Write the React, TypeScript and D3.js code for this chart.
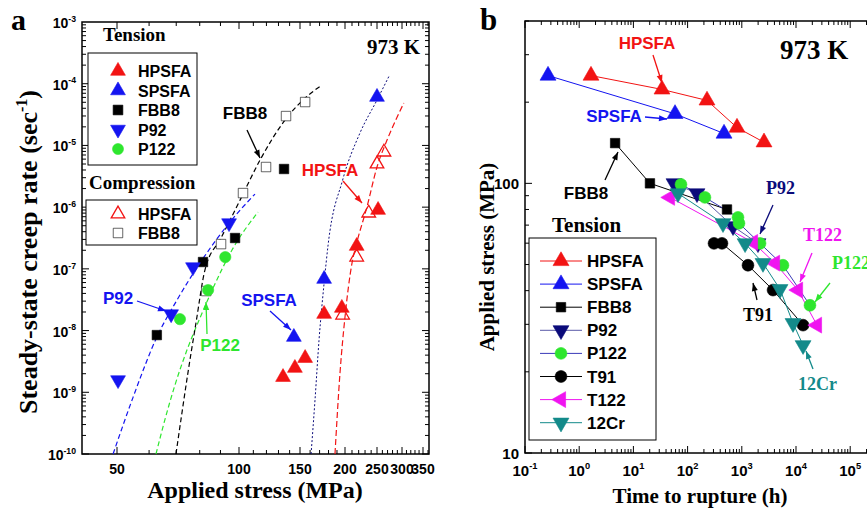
import React, { useEffect, useRef } from "react";
import * as d3 from "d3";

// ---------- panel a : steady-state creep rate vs applied stress  [MPa, 1/s]
const aHpsfaT = [[134, 1.76e-9], [145, 2.47e-9], [155, 3.58e-9], [175, 1.85e-8], [196, 2.32e-8], [217, 2.34e-7], [252, 8.97e-7]];
const aHpsfaC = [[197, 1.78e-8], [217, 1.55e-7], [236, 8.02e-7], [250, 5.0e-6], [263, 7.8e-6]];
const aSpsfaT = [[144, 7.85e-9], [175, 6.84e-8], [250, 6.09e-5]];
const aFbb8T = [[62.7, 8.45e-9], [81.5, 1.29e-7], [97.8, 3.16e-7], [134.9, 4.15e-6]];
const aFbb8C = [[83, 4.37e-8], [90.3, 2.52e-7], [102.7, 1.69e-6], [119.7, 4.47e-6], [136.7, 2.99e-5], [155, 5.05e-5]];
const aP92T = [[50.3, 1.58e-9], [68, 1.85e-8], [77, 1.07e-7], [94.5, 5.52e-7]];
const aP122T = [[71.5, 1.53e-8], [83.9, 4.53e-8], [92.5, 1.55e-7]];

// fitted curves
const fitP92 = [[48.9, 1e-10], [54.8, 8.36e-10], [62.7, 7.85e-9], [70.3, 3.12e-8], [80.1, 1.24e-7], [95, 5.74e-7], [111.2, 1.63e-6]];
const fitP122 = [[62.4, 1e-10], [65.6, 3.54e-10], [69.5, 1.31e-9], [74.4, 4.83e-9], [80.1, 1.6e-8], [86.3, 4.89e-8], [96.1, 2.02e-7], [113.5, 8.33e-7]];
const fitFbb8 = [[69.9, 1e-10], [72.3, 4.6e-10], [74.8, 2.05e-9], [78.3, 1.32e-8], [82.4, 9.57e-8], [90.3, 3.16e-7], [100.7, 1.3e-6], [115, 5.8e-6], [135.8, 2.58e-5], [155, 5.86e-5], [172.7, 9.53e-5]];
const fitSpsfa = [[161, 1e-10], [165.1, 7.48e-10], [169.4, 7.02e-9], [175, 5.89e-8], [179.5, 2.43e-7], [197, 2.75e-6], [222, 1.59e-5], [250, 5.44e-5], [273, 1.33e-4]];
const fitHpsfa = [[187.6, 1e-10], [193.7, 2.05e-9], [200, 1.66e-8], [210, 1.24e-7], [217, 2.62e-7], [233, 1e-6], [250, 4.47e-6], [269, 1.22e-5], [304, 4.86e-5]];

const aStressLabels = [50, 100, 150, 200, 250, 300, 350];
const aRateExps = [-10, -9, -8, -7, -6, -5, -4, -3];

// ---------- panel b : applied stress vs time to rupture  [h, MPa]
const bHpsfa = [[1.65, 251], [33.7, 223], [228, 203], [815, 161], [2570, 142]];
const bSpsfa = [[0.266, 251], [58.6, 181], [470, 153]];
const bFbb8 = [[4.6, 141], [20.2, 100], [533, 80]];
const bP92 = [[56.1, 100], [149, 91.8], [689, 69.3], [1990, 59.9]];
const bP122 = [[75.5, 99.1], [209, 88.7], [851, 74.8], [888, 71.1], [2170, 59.9], [5750, 49.7], [18100, 35.3]];
const bT91 = [[307, 59.9], [431, 59.9], [1300, 49.7], [3770, 40.2], [13500, 29.8]];
const bT122 = [[47.3, 88.7], [1610, 60.4], [4100, 50.6], [10900, 40.2], [24400, 29.8]];
const b12Cr = [[66.5, 91.8], [450, 71.1], [1150, 59.9], [2460, 50.6], [5070, 40.5], [8810, 30.3], [13500, 25.1]];

const bTimeExps = [-1, 0, 1, 2, 3, 4, 5];
const bStressLabels = [10, 100];

const RED = "#f21313", BLUE = "#1414f0", NAVY = "#0b0b7a", GREEN = "#2ee62e", MAG = "#f014f0", TEAL = "#138a8a";
const SANS = "Liberation Sans, Arial, sans-serif";
const SERIF = "Liberation Serif, Times New Roman, serif";

type Sel = d3.Selection<any, any, any, any>;

const marker = (g: Sel, x: number, y: number, shape: string, fill: string, stroke: string, size: number) => {
  let type: d3.SymbolType = d3.symbolTriangle, rot = 0;
  if (shape === "down") rot = 180;
  if (shape === "left") rot = -90;
  if (shape === "square") type = d3.symbolSquare;
  if (shape === "circle") type = d3.symbolCircle;
  g.append("path")
    .attr("d", d3.symbol(type, size)())
    .attr("transform", `translate(${x},${y}) rotate(${rot})`)
    .attr("fill", fill)
    .attr("stroke", stroke)
    .attr("stroke-width", fill === "none" ? 1.3 : 0.6);
};

const powLabel = (g: Sel, x: number, y: number, exp: number, anchor: string, size: number) => {
  const t = g.append("text").attr("x", x).attr("y", y).attr("text-anchor", anchor)
    .attr("font-family", SANS).attr("font-weight", "bold").attr("font-size", size);
  t.append("tspan").text("10");
  t.append("tspan").attr("dy", -size * 0.45).attr("font-size", size * 0.62).text(String(exp));
};

const arrow = (g: Sel, x1: number, y1: number, x2: number, y2: number, color: string) => {
  g.append("line").attr("x1", x1).attr("y1", y1).attr("x2", x2).attr("y2", y2)
    .attr("stroke", color).attr("stroke-width", 1.3);
  const ang = Math.atan2(y2 - y1, x2 - x1) * 180 / Math.PI;
  g.append("path").attr("d", "M0,0L-8,-3L-8,3Z").attr("fill", color)
    .attr("transform", `translate(${x2},${y2}) rotate(${ang})`);
};

function drawPanelA(svg: Sel) {
  const L = 82, R = 429, T = 22, Bt = 454;
  const x = d3.scaleLog().domain([41, 50, 100, 150, 200, 250, 300, 350, 362]).range([82, 117, 239, 300, 345, 377, 402, 423, 429]);
  const y = d3.scaleLog().domain([1e-10, 1e-3]).range([Bt, T]);
  const g = svg.append("g");

  // ticks
  const xt = d3.range(50, 361, 10);
  xt.forEach((v) => {
    const len = v % 50 === 0 ? 7 : 4;
    g.append("line").attr("x1", x(v)).attr("x2", x(v)).attr("y1", Bt).attr("y2", Bt - len).attr("stroke", "#000");
    g.append("line").attr("x1", x(v)).attr("x2", x(v)).attr("y1", T).attr("y2", T + len).attr("stroke", "#000");
  });
  for (let e = -10; e < -3; e++) {
    for (let m = 1; m < 10; m++) {
      const v = m * Math.pow(10, e);
      const len = m === 1 ? 7 : 4;
      g.append("line").attr("x1", L).attr("x2", L + len).attr("y1", y(v)).attr("y2", y(v)).attr("stroke", "#000");
      g.append("line").attr("x1", R).attr("x2", R - len).attr("y1", y(v)).attr("y2", y(v)).attr("stroke", "#000");
    }
  }
  g.append("rect").attr("x", L).attr("y", T).attr("width", R - L).attr("height", Bt - T)
    .attr("fill", "none").attr("stroke", "#000").attr("stroke-width", 1.5);

  aStressLabels.forEach((v) => {
    g.append("text").attr("x", x(v)).attr("y", 474).attr("text-anchor", "middle")
      .attr("font-family", SANS).attr("font-weight", "bold").attr("font-size", 14).text(v);
  });
  aRateExps.forEach((e) => powLabel(g, 76, y(Math.pow(10, e)) + 6, e, "end", 14));

  // fitted curves
  const line = d3.line<number[]>().x((d) => x(d[0])).y((d) => y(d[1])).curve(d3.curveMonotoneX);
  const fits: [number[][], string, string, number][] = [
    [fitP92, BLUE, "5,3", 1.2], [fitP122, GREEN, "5,3", 1.2], [fitFbb8, "#000", "5,3", 1.2],
    [fitSpsfa, NAVY, "2,2", 1], [fitHpsfa, RED, "6,3", 1.2],
  ];
  fits.forEach(([d, c, dash, w]) => {
    g.append("path").attr("d", line(d)).attr("fill", "none").attr("stroke", c)
      .attr("stroke-dasharray", dash).attr("stroke-width", w);
  });

  // points
  aHpsfaC.forEach((d) => marker(g, x(d[0]), y(d[1]), "up", "none", RED, 80));
  aFbb8C.forEach((d) => marker(g, x(d[0]), y(d[1]), "square", "#fff", "#000", 90));
  aP122T.forEach((d) => marker(g, x(d[0]), y(d[1]), "circle", GREEN, GREEN, 100));
  aFbb8T.forEach((d) => marker(g, x(d[0]), y(d[1]), "square", "#000", "#000", 90));
  aP92T.forEach((d) => marker(g, x(d[0]), y(d[1]), "down", BLUE, BLUE, 95));
  aSpsfaT.forEach((d) => marker(g, x(d[0]), y(d[1]), "up", BLUE, BLUE, 95));
  aHpsfaT.forEach((d) => marker(g, x(d[0]), y(d[1]), "up", RED, RED, 95));

  // legends
  g.append("text").attr("x", 103).attr("y", 41).attr("font-family", SERIF).attr("font-weight", "bold").attr("font-size", 19).text("Tension");
  g.append("rect").attr("x", 88).attr("y", 53).attr("width", 109).attr("height", 112).attr("fill", "#fff").attr("stroke", "#000");
  const tl: [string, string, string, string][] = [
    ["HPSFA", "up", RED, RED], ["SPSFA", "up", BLUE, BLUE], ["FBB8", "square", "#000", "#000"],
    ["P92", "down", BLUE, BLUE], ["P122", "circle", GREEN, GREEN],
  ];
  tl.forEach(([n, s, f, c], i) => {
    const yy = 71 + i * 19.5;
    marker(g, 118, yy, s, f, c, 95);
    g.append("text").attr("x", 138).attr("y", yy + 6).attr("font-family", SANS).attr("font-weight", "bold").attr("font-size", 16).text(n);
  });
  g.append("text").attr("x", 89).attr("y", 189).attr("font-family", SERIF).attr("font-weight", "bold").attr("font-size", 19).text("Compression");
  g.append("rect").attr("x", 86).attr("y", 200).attr("width", 111).attr("height", 45).attr("fill", "#fff").attr("stroke", "#000");
  marker(g, 118, 214, "up", "none", RED, 80);
  g.append("text").attr("x", 138).attr("y", 220).attr("font-family", SANS).attr("font-weight", "bold").attr("font-size", 16).text("HPSFA");
  marker(g, 118, 233, "square", "#fff", "#000", 90);
  g.append("text").attr("x", 138).attr("y", 239).attr("font-family", SANS).attr("font-weight", "bold").attr("font-size", 16).text("FBB8");

  // annotations
  const ann: [string, number, number, string][] = [
    ["FBB8", 245, 119, "#000"], ["HPSFA", 330, 176, RED], ["SPSFA", 269, 306, BLUE],
    ["P92", 118, 304, BLUE], ["P122", 220, 351, GREEN],
  ];
  ann.forEach(([t, ax, ay, c]) => {
    g.append("text").attr("x", ax).attr("y", ay).attr("text-anchor", "middle").attr("font-family", SANS)
      .attr("font-weight", "bold").attr("font-size", 17).attr("fill", c).text(t);
  });
  arrow(g, 247, 130, 260, 158, "#000");
  arrow(g, 343, 181, 362, 203, RED);
  arrow(g, 270, 311, 291, 330, BLUE);
  arrow(g, 137, 301, 166, 311, BLUE);
  arrow(g, 207, 334, 206, 302, GREEN);

  g.append("text").attr("x", 367).attr("y", 54).attr("font-family", SERIF).attr("font-weight", "bold").attr("font-size", 21).text("973 K");
  g.append("text").attr("x", 11).attr("y", 30).attr("font-family", SERIF).attr("font-weight", "bold").attr("font-size", 30).text("a");

  // axis titles
  g.append("text").attr("x", 255).attr("y", 498).attr("text-anchor", "middle").attr("font-family", SERIF)
    .attr("font-weight", "bold").attr("font-size", 24).text("Applied stress (MPa)");
  const yt = g.append("text").attr("transform", "translate(37,252) rotate(-90)").attr("text-anchor", "middle")
    .attr("font-family", SERIF).attr("font-weight", "bold").attr("font-size", 26);
  yt.append("tspan").text("Steady-state creep rate (sec");
  yt.append("tspan").attr("dy", -10).attr("font-size", 16).text("-1");
  yt.append("tspan").attr("dy", 10).text(")");
}

function drawPanelB(svg: Sel) {
  const L = 525, T = 21, Bt = 453;
  const x = d3.scaleLog().domain([0.1, 1e6]).range([L, L + 7 * 54.2]);
  const y = d3.scaleLog().domain([10, 400]).range([Bt, T]);
  const R = x(1e6);
  const g = svg.append("g");

  for (let e = -1; e < 6; e++) {
    for (let m = 1; m < 10; m++) {
      const v = m * Math.pow(10, e);
      const len = m === 1 ? 7 : 4;
      g.append("line").attr("x1", x(v)).attr("x2", x(v)).attr("y1", Bt).attr("y2", Bt - len).attr("stroke", "#000");
      g.append("line").attr("x1", x(v)).attr("x2", x(v)).attr("y1", T).attr("y2", T + len).attr("stroke", "#000");
    }
  }
  [10, 20, 30, 40, 50, 60, 70, 80, 90, 100, 200, 300, 400].forEach((v) => {
    const len = v === 10 || v === 100 ? 7 : 4;
    g.append("line").attr("x1", L).attr("x2", L + len).attr("y1", y(v)).attr("y2", y(v)).attr("stroke", "#000");
  });
  g.append("rect").attr("x", L).attr("y", T).attr("width", R - L).attr("height", Bt - T)
    .attr("fill", "none").attr("stroke", "#000").attr("stroke-width", 1.5);

  bTimeExps.forEach((e) => powLabel(g, x(Math.pow(10, e)), 476, e, "middle", 15));
  bStressLabels.forEach((v) => {
    g.append("text").attr("x", 519).attr("y", y(v) + 6).attr("text-anchor", "end")
      .attr("font-family", SANS).attr("font-weight", "bold").attr("font-size", 15).text(v);
  });

  const series: [string, number[][], string, string, string, string][] = [
    ["HPSFA", bHpsfa, "up", RED, RED, RED],
    ["SPSFA", bSpsfa, "up", BLUE, BLUE, BLUE],
    ["FBB8", bFbb8, "square", "#000", "#000", "#000"],
    ["P92", bP92, "down", NAVY, NAVY, "#5a5aa8"],
    ["P122", bP122, "circle", GREEN, GREEN, "#3a3ab8"],
    ["T91", bT91, "circle", "#000", "#000", "#000"],
    ["T122", bT122, "left", MAG, MAG, MAG],
    ["12Cr", b12Cr, "down", TEAL, TEAL, TEAL],
  ];
  const line = d3.line<number[]>().x((d) => x(d[0])).y((d) => y(d[1]));
  series.forEach(([, d, , , , lc]) => {
    g.append("path").attr("d", line(d)).attr("fill", "none").attr("stroke", lc).attr("stroke-width", 1);
  });
  series.forEach(([, d, s, f, c]) => {
    d.forEach((p) => marker(g, x(p[0]), y(p[1]), s, f, c, s === "square" ? 90 : 110));
  });

  // legend
  g.append("text").attr("x", 552).attr("y", 232).attr("font-family", SERIF).attr("font-weight", "bold").attr("font-size", 21).text("Tension");
  g.append("rect").attr("x", 529).attr("y", 238).attr("width", 127).attr("height", 202).attr("fill", "#fff").attr("stroke", "#000");
  series.forEach(([n, , s, f, c, lc], i) => {
    const yy = 261 + i * 23.1;
    g.append("line").attr("x1", 540).attr("x2", 582).attr("y1", yy).attr("y2", yy).attr("stroke", lc).attr("stroke-width", 1);
    marker(g, 561, yy, s, f, c, s === "square" ? 90 : 110);
    g.append("text").attr("x", 587).attr("y", yy + 6).attr("font-family", SANS).attr("font-weight", "bold").attr("font-size", 17).text(n);
  });

  // annotations
  const annSans: [string, number, number, string][] = [["HPSFA", 647, 49, RED], ["SPSFA", 614, 122, BLUE], ["FBB8", 586, 199, "#000"]];
  annSans.forEach(([t, ax, ay, c]) => {
    g.append("text").attr("x", ax).attr("y", ay).attr("text-anchor", "middle").attr("font-family", SANS)
      .attr("font-weight", "bold").attr("font-size", 17).attr("fill", c).text(t);
  });
  const annSerif: [string, number, number, string][] = [["P92", 766, 194, NAVY], ["T122", 803, 241, MAG], ["P122", 832, 269, GREEN], ["T91", 743, 321, "#000"], ["12Cr", 798, 390, TEAL]];
  annSerif.forEach(([t, ax, ay, c]) => {
    g.append("text").attr("x", ax).attr("y", ay).attr("font-family", SERIF)
      .attr("font-weight", "bold").attr("font-size", 18).attr("fill", c).text(t);
  });
  arrow(g, 653, 55, 662, 83, RED);
  arrow(g, 645, 117, 667, 119, BLUE);
  arrow(g, 605, 180, 618, 152, "#000");
  arrow(g, 773, 205, 760, 234, NAVY);
  arrow(g, 812, 253, 800, 282, MAG);
  arrow(g, 830, 283, 815, 302, GREEN);
  arrow(g, 757, 300, 753, 283, "#000");
  arrow(g, 813, 369, 806, 351, TEAL);

  g.append("text").attr("x", 780).attr("y", 59).attr("font-family", SERIF).attr("font-weight", "bold").attr("font-size", 27).text("973 K");
  g.append("text").attr("x", 480).attr("y", 30).attr("font-family", SERIF).attr("font-weight", "bold").attr("font-size", 31).text("b");

  g.append("text").attr("x", 700).attr("y", 503).attr("text-anchor", "middle").attr("font-family", SERIF)
    .attr("font-weight", "bold").attr("font-size", 21).text("Time to rupture (h)");
  g.append("text").attr("transform", "translate(494,257) rotate(-90)").attr("text-anchor", "middle")
    .attr("font-family", SERIF).attr("font-weight", "bold").attr("font-size", 21).text("Applied stress (MPa)");
}

export default function App() {
  const svgRef = useRef<SVGSVGElement>(null);

  useEffect(() => {
    const svg = d3.select(svgRef.current);
    svg.selectAll("*").remove();
    drawPanelA(svg);
    drawPanelB(svg);
  }, []);

  return (
    <div style={{ position: "absolute", left: 0, top: 0 }}>
      <svg ref={svgRef} width={867} height={508} style={{ display: "block", background: "#fff" }} />
    </div>
  );
}
